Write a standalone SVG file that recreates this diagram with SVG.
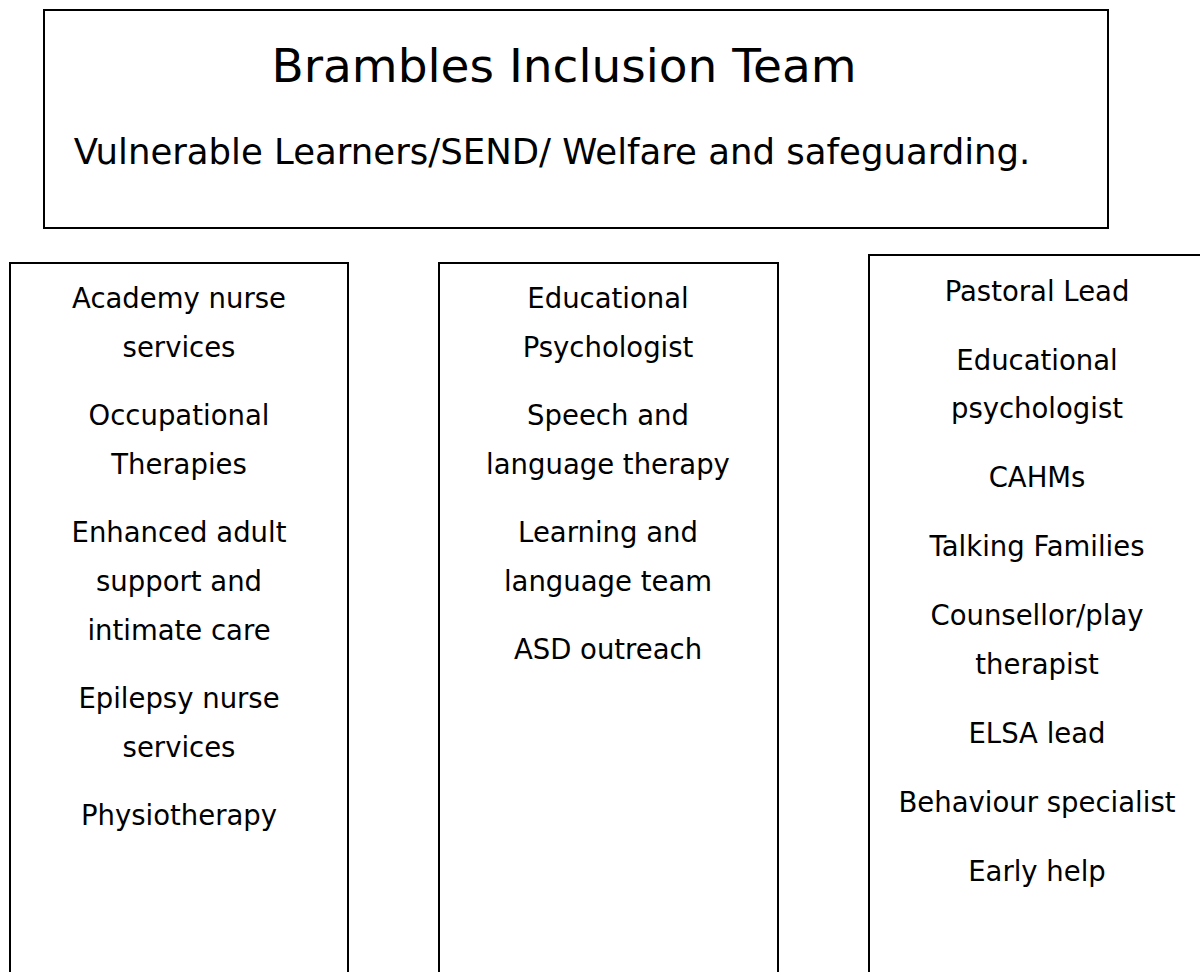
<svg xmlns="http://www.w3.org/2000/svg" width="1200" height="972" viewBox="0 0 1200 972">
<style>
rect{fill:#fff;stroke:#000;stroke-width:2}
text{font-family:"Comic Sans MS","DejaVu Sans",sans-serif;fill:#000;text-anchor:middle}
.t{font-size:47px}
.s{font-size:35.5px}
.i{font-size:27.5px}
</style>
<rect width="1200" height="972" style="stroke:none"/>
<g id="header">
<rect x="44" y="10" width="1064" height="218"/>
<text class="t" x="564" y="82">Brambles Inclusion Team</text>
<text class="s" x="552" y="164">Vulnerable Learners/SEND/ Welfare and safeguarding.</text>
</g>
<g id="col1">
<rect x="10" y="263" width="338" height="720"/>
<text class="i" x="179" y="308">Academy nurse</text>
<text class="i" x="179" y="357">services</text>
<text class="i" x="179" y="425">Occupational</text>
<text class="i" x="179" y="474">Therapies</text>
<text class="i" x="179" y="542">Enhanced adult</text>
<text class="i" x="179" y="591">support and</text>
<text class="i" x="179" y="640">intimate care</text>
<text class="i" x="179" y="708">Epilepsy nurse</text>
<text class="i" x="179" y="757">services</text>
<text class="i" x="179" y="825">Physiotherapy</text>
</g>
<g id="col2">
<rect x="439" y="263" width="339" height="720"/>
<text class="i" x="608" y="308">Educational</text>
<text class="i" x="608" y="357">Psychologist</text>
<text class="i" x="608" y="425">Speech and</text>
<text class="i" x="608" y="474">language therapy</text>
<text class="i" x="608" y="542">Learning and</text>
<text class="i" x="608" y="591">language team</text>
<text class="i" x="608" y="659">ASD outreach</text>
</g>
<g id="col3">
<rect x="869" y="255" width="340" height="730"/>
<text class="i" x="1037" y="301">Pastoral Lead</text>
<text class="i" x="1037" y="370">Educational</text>
<text class="i" x="1037" y="418">psychologist</text>
<text class="i" x="1037" y="487">CAHMs</text>
<text class="i" x="1037" y="556">Talking Families</text>
<text class="i" x="1037" y="625">Counsellor/play</text>
<text class="i" x="1037" y="674">therapist</text>
<text class="i" x="1037" y="743">ELSA lead</text>
<text class="i" x="1037" y="812">Behaviour specialist</text>
<text class="i" x="1037" y="881">Early help</text>
</g>
<g id="connectors"/>
</svg>
